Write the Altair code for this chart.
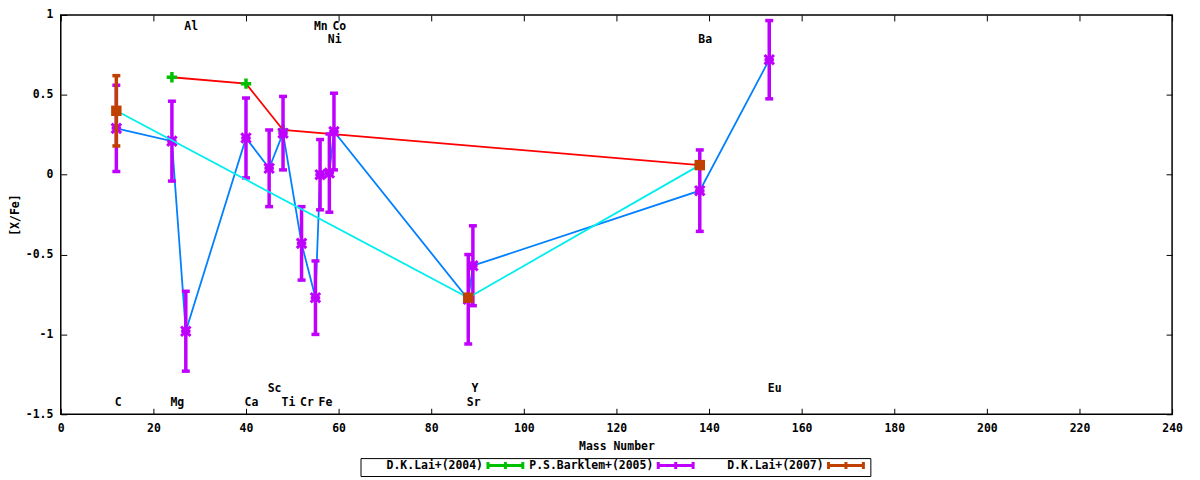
import altair as alt
import pandas as pd

FONT = "DejaVu Sans Mono"
FS = 11.5

series_names = ["D.K.Lai+(2004)", "P.S.Barklem+(2005)", "D.K.Lai+(2007)"]
series_colors = ["#00c000", "#c000ff", "#c04000"]

# D.K.Lai+(2004)
lai04_mass = [24, 40, 48, 138]
lai04_val = [0.61, 0.57, 0.28, 0.06]
lai04_err = [0.0, 0.0, 0.0, 0.0]

# P.S.Barklem+(2005)
bark_mass = [12, 24, 27, 40, 45, 48, 52, 55, 56, 58, 59, 88, 89, 138, 153]
bark_val = [0.29, 0.21, -0.98, 0.23, 0.04, 0.26, -0.43, -0.77, 0.00, 0.01, 0.27, -0.78, -0.57, -0.10, 0.72]
bark_err = [0.27, 0.25, 0.25, 0.25, 0.24, 0.23, 0.23, 0.23, 0.22, 0.245, 0.24, 0.28, 0.25, 0.255, 0.245]

# D.K.Lai+(2007)
lai07_mass = [12, 88, 138]
lai07_val = [0.40, -0.77, 0.06]
lai07_err = [0.22, 0.0, 0.0]

# element labels
elem_names = ["C", "Mg", "Al", "Ca", "Sc", "Ti", "Cr", "Mn", "Fe", "Co", "Ni", "Sr", "Y", "Ba", "Eu"]
elem_mass = [12, 24, 27, 40, 45, 48, 52, 55, 56, 59, 58, 88, 89, 138, 153]
elem_ypos = [-1.43, -1.43, 0.925, -1.43, -1.34, -1.43, -1.43, 0.925, -1.43, 0.925, 0.845, -1.43, -1.34, 0.845, -1.34]

x_ticks = list(range(0, 241, 20))
y_ticks = [-1.5, -1.0, -0.5, 0.0, 0.5, 1.0]


def frame(name, color, mass, val, err):
    return pd.DataFrame({
        "series": name, "hex": color, "mass": mass, "val": val, "err": err,
        "lo": [v - e for v, e in zip(val, err)],
        "hi": [v + e for v, e in zip(val, err)],
    })


df04 = frame(series_names[0], series_colors[0], lai04_mass, lai04_val, lai04_err)
dfb = frame(series_names[1], series_colors[1], bark_mass, bark_val, bark_err)
df07 = frame(series_names[2], series_colors[2], lai07_mass, lai07_val, lai07_err)
dfl = pd.DataFrame({"name": elem_names, "mass": elem_mass, "ypos": elem_ypos})

xs = alt.Scale(domain=[0, 240], nice=False, zero=False)
ys = alt.Scale(domain=[-1.5, 1], nice=False, zero=False)
cs = alt.Scale(domain=series_names, range=series_colors)

common_axis = dict(domain=False, grid=False, offset=-6, tickSize=6, tickColor="black", tickWidth=1,
                   labelFont=FONT, labelFontSize=FS, labelFontWeight="bold", labelColor="black",
                   titleFont=FONT, titleFontSize=FS, titleFontWeight="bold", titleColor="black")

bottom_axis = alt.Axis(orient="bottom", values=x_ticks, labelFlush=False, labelOverlap=False,
                       labelBaseline="middle", labelPadding=14, title="Mass Number",
                       titleY=38, titleBaseline="middle", **common_axis)
left_axis = alt.Axis(orient="left", values=y_ticks, labelOverlap=False, labelPadding=8,
                     labelExpr="toString(datum.value)", title="[X/Fe]",
                     titleX=-51, titleBaseline="middle", **common_axis)
top_axis = alt.Axis(orient="top", values=x_ticks, labels=False, title=None,
                    minExtent=0, maxExtent=0, **common_axis)
right_axis = alt.Axis(orient="right", values=y_ticks, labels=False, title=None,
                      minExtent=0, maxExtent=0, **common_axis)

LEG_PATH = ("M24.1,0L31.1,0M24.1,-0.7L24.1,0.7M31.1,-0.7L31.1,0.7"
            "M27.6,-0.7L27.6,0.7")
leg = alt.Legend(orient="none", legendX=301, legendY=445, direction="horizontal", title=None,
                 columns=3, gridAlign="all", columnPadding=0, padding=1,
                 strokeColor="black", fillColor="white",
                 symbolType=LEG_PATH, symbolSize=100, symbolStrokeWidth=3,
                 labelAlign="right", labelOffset=109, labelLimit=400,
                 labelFont=FONT, labelFontSize=FS, labelFontWeight="bold", labelColor="black")

PLUS = "M-1,0L1,0M0,-1L0,1"
STAR = "M-1,0L1,0M0,-1L0,1M-1,-1L1,1M-1,1L1,-1"


def X(axis=None):
    return alt.X("mass:Q", scale=xs, axis=axis)


def Y(field="val", axis=None):
    return alt.Y(f"{field}:Q", scale=ys, axis=axis)


def line(df, color, xa=None, ya=None):
    return alt.Chart(df).mark_line(color=color, strokeWidth=1.8).encode(x=X(xa), y=Y(axis=ya))


def bars(df):
    rules = alt.Chart(df).transform_filter("datum.err > 0").mark_rule(strokeWidth=3.5).encode(
        x=X(), y=Y("lo"), y2="hi:Q",
        color=alt.Color("series:N", scale=cs, legend=leg))
    caps = alt.Chart(df).transform_filter("datum.err > 0").transform_fold(
        ["lo", "hi"], as_=["end", "yv"]).mark_point(
        shape="stroke", size=64, strokeWidth=3.5, filled=False, opacity=1).encode(
        x=X(), y=Y("yv"), color=alt.Color("hex:N", scale=None))
    return [rules, caps]


green_pts = alt.Chart(df04).mark_point(shape=PLUS, size=110, strokeWidth=3.5, filled=False, opacity=1).encode(
    x=X(), y=Y(), color=alt.Color("hex:N", scale=None))
purple_pts = alt.Chart(dfb).mark_point(shape=STAR, size=90, strokeWidth=3, filled=False, opacity=1).encode(
    x=X(), y=Y(), color=alt.Color("hex:N", scale=None))
brown_pts = alt.Chart(df07).mark_square(size=110, opacity=1).encode(
    x=X(), y=Y(), color=alt.Color("hex:N", scale=None))

labels = alt.Chart(dfl).mark_text(align="left", baseline="middle", dx=-1.5, font=FONT, fontSize=FS,
                                  fontWeight="bold", color="black").encode(
    x=X(), y=Y("ypos"), text="name:N")

layers = [
    line(df04, "#ff0000", top_axis, right_axis),
    green_pts,
    line(dfb, "#0080ff", bottom_axis, left_axis),
    *bars(dfb),
    purple_pts,
    line(df07, "#00eeee"),
    *bars(df07),
    brown_pts,
    labels,
]

chart = alt.layer(*layers).resolve_axis(x="independent", y="independent").properties(
    width=1116, height=401,
    autosize=alt.AutoSizeParams(type="none"),
    padding={"left": 53, "top": 6, "right": 20, "bottom": 63},
    background="white",
).configure_view(stroke="black", strokeWidth=1.5)

chart.save("out.html", embed_options={"renderer": "svg", "actions": False})
